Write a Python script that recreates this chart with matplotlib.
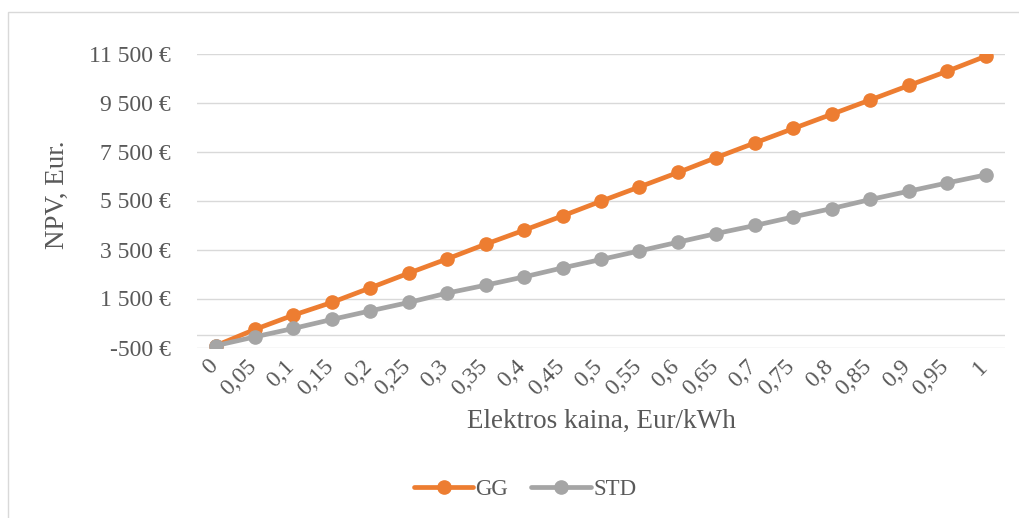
import matplotlib
matplotlib.use("Agg")
from matplotlib import pyplot as plt
from matplotlib.patches import Rectangle
from matplotlib.ticker import FuncFormatter
from matplotlib.transforms import ScaledTranslation

plt.rcParams["font.family"] = ["Liberation Serif", "DejaVu Serif"]

# elektros kaina, Eur/kWh
prices = ["0", "0,05", "0,1", "0,15", "0,2", "0,25", "0,3", "0,35", "0,4", "0,45", "0,5",
          "0,55", "0,6", "0,65", "0,7", "0,75", "0,8", "0,85", "0,9", "0,95", "1"]

# NPV, Eur
npvGG = [-420, 235, 818, 1337, 1933, 2533, 3116, 3716, 4288, 4871, 5471,
         6055, 6643, 7255, 7851, 8439, 9022, 9606, 10194, 10778, 11390]
npvSTD = [-420, -67, 276, 643, 994, 1337, 1720, 2043, 2382, 2749, 3092,
          3443, 3798, 4153, 4480, 4831, 5173, 5541, 5880, 6218, 6545]

yTicks = [-500, 1500, 3500, 5500, 7500, 9500, 11500]

textColor = "#595959"
gridColor = "#D9D9D9"
W, H = 1019, 518

fig = plt.figure(figsize=(W / 100, H / 100), dpi=100)
ax = fig.add_axes([197 / W, 1 - 347.5 / H, (1005 - 197) / W, (347.5 - 53.5) / H])

# remelis aplink diagrama
fig.patches.append(Rectangle((8 / W, -0.1), 1.2, 1 - 12 / H + 0.1, transform=fig.transFigure,
                             fill=False, edgecolor=gridColor, linewidth=1.0))

xs = list(range(len(prices)))
ax.plot(xs, npvGG, color="#ED7D31", linewidth=3.4, marker="o", markersize=9.5, label="GG",
        solid_capstyle="round", zorder=3)
ax.plot(xs, npvSTD, color="#A5A5A5", linewidth=3.4, marker="o", markersize=9.5, label="STD",
        solid_capstyle="round", zorder=4)

ax.set_xlim(-0.5, len(prices) - 0.5)
ax.set_ylim(-500, 11500)
ax.set_yticks(yTicks)
ax.yaxis.set_major_formatter(FuncFormatter(lambda v, p: f"{int(v):,} €".replace(",", " ")))
ax.grid(axis="y", color=gridColor, linewidth=1.0)
ax.axhline(0, color=gridColor, linewidth=1.0, zorder=1)
ax.set_axisbelow(True)

for s in ax.spines.values():
    s.set_visible(False)

ax.set_xticks(xs)
ax.set_xticklabels(prices, rotation=45, ha="right", va="top")
ax.tick_params(axis="x", length=0, pad=6, labelsize=17, labelcolor=textColor)
ax.tick_params(axis="y", length=0, pad=19, labelsize=17, labelcolor=textColor)

# pastumiam pasuktas etiketes truputi i desine
shift = ScaledTranslation(6 / 100, 0, fig.dpi_scale_trans)
for lbl in ax.get_xticklabels():
    lbl.set_transform(lbl.get_transform() + shift)

fig.text(601 / W, 1 - 421 / H, "Elektros kaina, Eur/kWh", ha="center", va="center",
         fontsize=19.5, color=textColor)
fig.text(57 / W, 1 - 195 / H, "NPV, Eur.", ha="center", va="center", rotation=90,
         fontsize=19.5, color=textColor)

ax.legend(loc="center", bbox_to_anchor=(525 / W, 1 - 489 / H), bbox_transform=fig.transFigure,
          ncol=2, frameon=False, fontsize=16.5, labelcolor=textColor, handlelength=2.6,
          handletextpad=0.1, columnspacing=1.0)

fig.savefig("out.png", dpi=100)
